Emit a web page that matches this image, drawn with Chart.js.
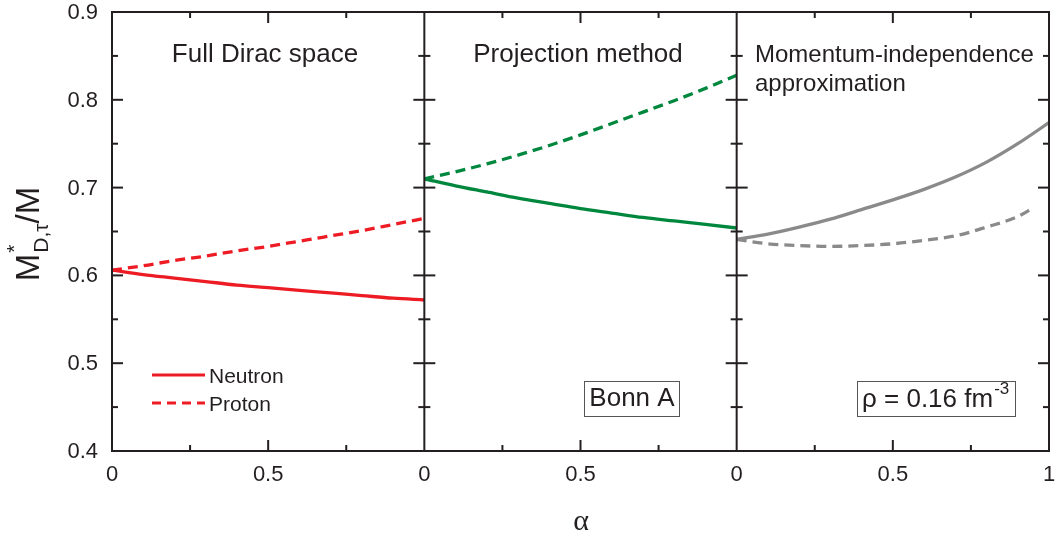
<!DOCTYPE html>
<html>
<head>
<meta charset="utf-8">
<script src="https://cdn.jsdelivr.net/npm/chart.js@4"></script>
<style>
  body { margin: 0; background: #fff; }
  #wrap { width: 1059px; height: 542px; }
</style>
</head>
<body>
<div id="wrap"><canvas id="chart" width="1059" height="542"></canvas></div>
<script>
// ---- data ----
const alpha = [0, 0.1, 0.2, 0.3, 0.4, 0.5, 0.6, 0.7, 0.8, 0.9, 1.0];
const alphaMiProton = [0, 0.1, 0.2, 0.3, 0.4, 0.5, 0.6, 0.7, 0.8, 0.9, 0.95];

const fullNeutron = [0.606, 0.601, 0.597, 0.593, 0.589, 0.586, 0.583, 0.580, 0.577, 0.574, 0.572];
const fullProton  = [0.606, 0.611, 0.617, 0.622, 0.628, 0.633, 0.639, 0.645, 0.651, 0.658, 0.665];
const projNeutron = [0.710, 0.702, 0.695, 0.688, 0.682, 0.676, 0.671, 0.666, 0.662, 0.658, 0.654];
const projProton  = [0.710, 0.718, 0.727, 0.737, 0.748, 0.760, 0.773, 0.786, 0.799, 0.813, 0.828];
const miNeutron   = [0.641, 0.647, 0.655, 0.664, 0.675, 0.686, 0.698, 0.712, 0.729, 0.750, 0.774];
const miProton    = [0.641, 0.636, 0.634, 0.633, 0.634, 0.636, 0.640, 0.645, 0.655, 0.667, 0.677];

const panelTitles = [['Full Dirac space'], ['Projection method'], ['Momentum-independence', 'approximation']];
const xTickValues = [0, 0.5, 1, 1.5, 2, 2.5, 3];
const xTickLabels = ['0', '0.5', '0', '0.5', '0', '0.5', '1'];
const yMajor = [0.4, 0.5, 0.6, 0.7, 0.8, 0.9];
const yMinor = [0.45, 0.55, 0.65, 0.75, 0.85];

const RED = '#ED1C24', GREEN = '#00873E', GRAY = '#8A8A8A', INK = '#231F20';
const FONT = '"Liberation Sans", Arial, sans-serif';

function series(xs, ys, panel) {
  return xs.map((a, i) => ({ x: a + panel, y: ys[i] }));
}
function ds(xs, ys, panel, color, dashed) {
  return {
    data: series(xs, ys, panel),
    borderColor: color,
    borderWidth: 3.3,
    borderDash: dashed ? [10, 6] : [],
    pointRadius: 0,
    cubicInterpolationMode: 'monotone',
    fill: false
  };
}

// frame, inward ticks, tick labels and annotations
const decor = {
  id: 'decor',
  afterDatasetsDraw(chart) {
    const { ctx, chartArea: a, scales: { x, y } } = chart;
    ctx.save();
    ctx.strokeStyle = INK;
    ctx.lineWidth = 2;
    ctx.lineCap = 'butt';
    const line = (x1, y1, x2, y2) => { ctx.beginPath(); ctx.moveTo(x1, y1); ctx.lineTo(x2, y2); ctx.stroke(); };

    // box
    line(a.left - 1, a.top, a.right + 1, a.top);
    line(a.left - 1, a.bottom, a.right + 1, a.bottom);
    [0, 1, 2, 3].forEach(v => line(x.getPixelForValue(v), a.top, x.getPixelForValue(v), a.bottom));

    // y ticks
    const yt = (vals, len) => vals.forEach(v => {
      const py = y.getPixelForValue(v);
      [0, 1, 2, 3].forEach(p => {
        const px = x.getPixelForValue(p);
        const l = p === 0 ? 0 : len;
        const r = p === 3 ? 0 : len;
        line(px - l, py, px + r, py);
      });
    });
    yt(yMajor, 11);
    yt(yMinor, 6);

    // x ticks
    [0, 1, 2].forEach(p => {
      [[0.25, 6], [0.5, 11], [0.75, 6]].forEach(([v, len]) => {
        const px = x.getPixelForValue(p + v);
        line(px, a.bottom, px, a.bottom - len);
        line(px, a.top, px, a.top + len);
      });
    });

    // tick labels
    ctx.fillStyle = INK;
    ctx.font = '22px ' + FONT;
    ctx.textBaseline = 'middle';
    ctx.textAlign = 'right';
    yMajor.forEach(v => ctx.fillText(v.toFixed(1), a.left - 14, y.getPixelForValue(v) + 1));
    ctx.textAlign = 'center';
    xTickValues.forEach((v, i) => ctx.fillText(xTickLabels[i], x.getPixelForValue(v), a.bottom + 24));

    // panel titles
    ctx.font = '26px ' + FONT;
    ctx.fillText(panelTitles[0][0], 265, 55);
    ctx.fillText(panelTitles[1][0], 578, 55);
    ctx.font = '24px ' + FONT;
    ctx.textAlign = 'left';
    ctx.fillText(panelTitles[2][0], 755, 55);
    ctx.fillText(panelTitles[2][1], 755, 84);

    // legend
    ctx.font = '21px ' + FONT;
    ctx.strokeStyle = RED;
    ctx.lineWidth = 3;
    line(152, 375, 205, 375);
    ctx.setLineDash([9, 6]);
    line(152, 403, 205, 403);
    ctx.setLineDash([]);
    ctx.fillText('Neutron', 209, 377);
    ctx.fillText('Proton', 209, 405);

    // boxed labels
    ctx.strokeStyle = '#555';
    ctx.lineWidth = 1;
    ctx.strokeRect(584.5, 381.5, 95, 35);
    ctx.strokeRect(857.5, 381.5, 158, 35);
    ctx.font = '26px ' + FONT;
    ctx.textAlign = 'center';
    ctx.fillText('Bonn A', 632, 399);
    ctx.textAlign = 'left';
    ctx.fillText('ρ = 0.16 fm', 862, 400);
    const w = ctx.measureText('ρ = 0.16 fm').width;
    ctx.font = '17px ' + FONT;
    ctx.fillText('-3', 862 + w + 1, 389);

    // x title
    ctx.font = '30px "Liberation Serif", serif';
    ctx.textAlign = 'center';
    ctx.fillText('α', 581, 522);

    // y title: M*_{D,τ}/M
    ctx.translate(30, 234);
    ctx.rotate(-Math.PI / 2);
    const big = '33px ' + FONT, small = '21px ' + FONT;
    ctx.font = big;
    const wM = ctx.measureText('M').width;
    const wSlash = ctx.measureText('/M').width;
    ctx.font = small;
    const wSub = ctx.measureText('D,τ').width;
    const total = wM + wSub + 1 + wSlash;
    let cx = -total / 2;
    ctx.textAlign = 'left';
    ctx.font = big;
    ctx.fillText('M', cx, 0);
    cx += wM;
    ctx.font = small;
    ctx.fillText('*', cx + 1, -15);
    ctx.fillText('D,τ', cx + 1, 12);
    cx += wSub + 1;
    ctx.font = big;
    ctx.fillText('/M', cx, 0);
    ctx.restore();
  }
};

new Chart(document.getElementById('chart'), {
  type: 'line',
  data: {
    datasets: [
      ds(alpha, fullNeutron, 0, RED, false),
      ds(alpha, fullProton, 0, RED, true),
      ds(alpha, projNeutron, 1, GREEN, false),
      ds(alpha, projProton, 1, GREEN, true),
      ds(alpha, miNeutron, 2, GRAY, false),
      ds(alphaMiProton, miProton, 2, GRAY, true)
    ]
  },
  options: {
    responsive: false,
    animation: false,
    events: [],
    layout: { padding: { top: 12, right: 10, left: 0, bottom: 0 } },
    plugins: { legend: { display: false }, tooltip: { enabled: false } },
    scales: {
      x: {
        type: 'linear',
        min: 0,
        max: 3,
        afterFit: s => { s.height = 91; },
        grid: { display: false, drawTicks: false },
        border: { display: false },
        ticks: { display: false }
      },
      y: {
        min: 0.4,
        max: 0.9,
        afterFit: s => { s.width = 112; },
        grid: { display: false, drawTicks: false },
        border: { display: false },
        ticks: { display: false }
      }
    }
  },
  plugins: [decor]
});
</script>
</body>
</html>
